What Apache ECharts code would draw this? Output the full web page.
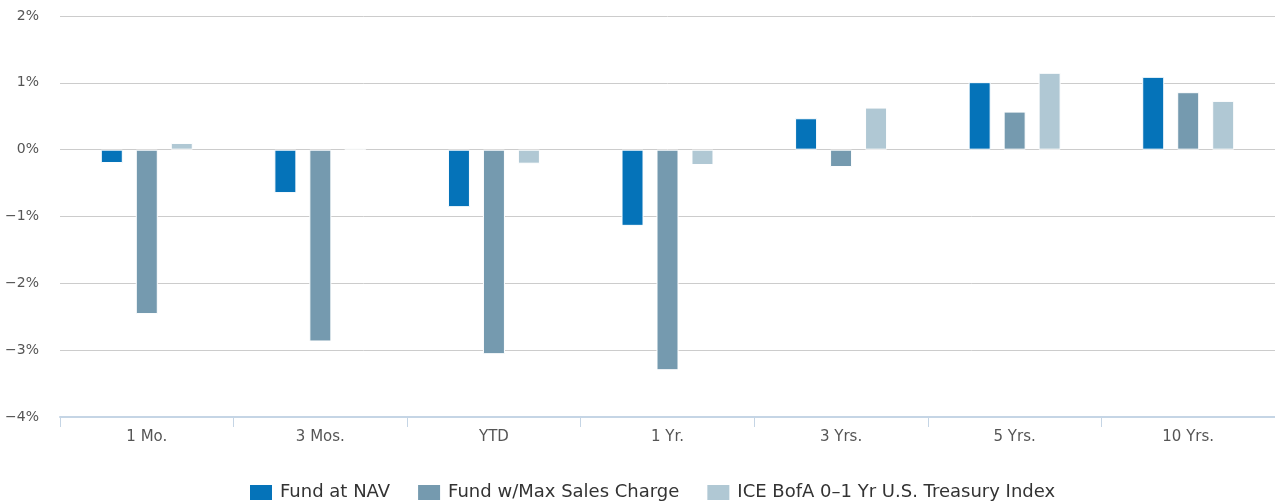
<!DOCTYPE html>
<html><head><meta charset="utf-8">
<script src="https://cdn.jsdelivr.net/npm/echarts@6/dist/echarts.min.js"></script>
<style>html,body{margin:0;padding:0;background:#fff}#c{width:1275px;height:503px}</style>
</head><body><div id="c"></div>
<script>
const categories = ['1 Mo.', '3 Mos.', 'YTD', '1 Yr.', '3 Yrs.', '5 Yrs.', '10 Yrs.'];
const seriesNames = ['Fund at NAV', 'Fund w/Max Sales Charge', 'ICE BofA 0–1 Yr U.S. Treasury Index'];
const fundNav = [-0.20, -0.65, -0.86, -1.14, 0.47, 1.01, 1.09];
const fundMax = [-2.46, -2.87, -3.06, -3.30, -0.26, 0.57, 0.86];
const indexVals = [0.10, 0.02, -0.21, -0.23, 0.63, 1.15, 0.73];
const yTicks = [-4, -3, -2, -1, 0, 1, 2];
const colors = ['#0573b9', '#759aaf', '#b0c8d4'];

const font = 'DejaVu Sans';
const chart = echarts.init(document.getElementById('c'));
const mk = (name, data, i) => ({
  name, type: 'bar', data, barWidth: 22, barGap: '59%',
  itemStyle: { color: colors[i], borderColor: '#ffffff', borderWidth: 1 }
});
chart.setOption({
  animation: false,
  textStyle: { fontFamily: font },
  grid: { left: 60, right: -7, top: 16, bottom: 86 },
  legend: {
    top: 483, left: 248, itemWidth: 24, itemHeight: 17, itemGap: 26,
    icon: 'rect', padding: 0,
    textStyle: { fontSize: 18, color: '#333', fontFamily: font, padding: [0, 0, 0, 2] }
  },
  xAxis: {
    type: 'category', data: categories,
    axisLine: { onZero: false, lineStyle: { color: '#c5d5e5', width: 2 } },
    axisTick: { show: true, length: 10, lineStyle: { color: '#c5d5e5' } },
    axisLabel: { color: '#555', fontSize: 15, margin: 13 }
  },
  yAxis: {
    type: 'value', min: yTicks[0], max: yTicks[yTicks.length - 1], interval: 1,
    splitLine: { lineStyle: { color: '#cccccc', width: 1 } },
    axisLine: { show: false }, axisTick: { show: false },
    axisLabel: { color: '#555', fontSize: 14, margin: 21,
      formatter: v => (v < 0 ? '−' + Math.abs(v) : v) + '%' }
  },
  series: [mk(seriesNames[0], fundNav, 0), mk(seriesNames[1], fundMax, 1), mk(seriesNames[2], indexVals, 2)]
});
</script></body></html>
